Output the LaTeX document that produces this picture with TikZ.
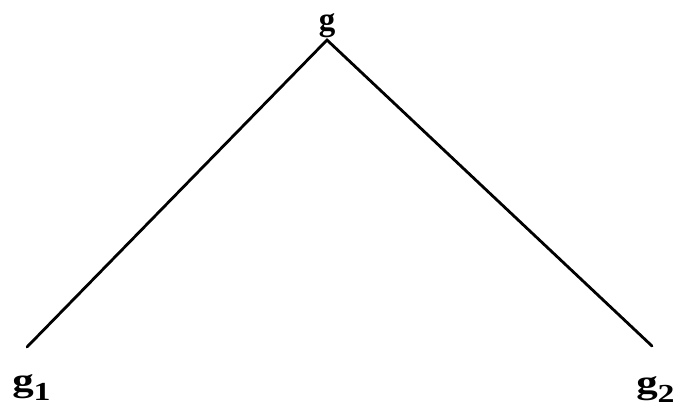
\documentclass[tikz,border=0pt]{standalone}
\usepackage{fontspec}
\setmainfont{Liberation Serif}
\usetikzlibrary{positioning}
\newcommand{\lowsub}[1]{\raisebox{-9pt}{\fontsize{26}{30}\selectfont #1}}

\begin{document}
\begin{tikzpicture}[x=1pt,y=-1pt, every node/.style={font=\fontsize{33}{38}\selectfont\bfseries, inner sep=0pt}, edge/.style={line width=2.8pt,line cap=round}]
\useasboundingbox (0,0) rectangle (677,413);
\coordinate (top) at (327,40);
\coordinate (left) at (27,347);
\coordinate (right) at (652,346);
\node[above=2pt of top] (gtop) {g};
\node[anchor=north west,xscale=1.3] (gleft) at (12,374) {g\lowsub{1}};
\node[anchor=north west,xscale=1.3] (gright) at (636,376) {g\lowsub{2}};
\draw[edge] (left) -- (top) -- (right);
\end{tikzpicture}
\end{document}
